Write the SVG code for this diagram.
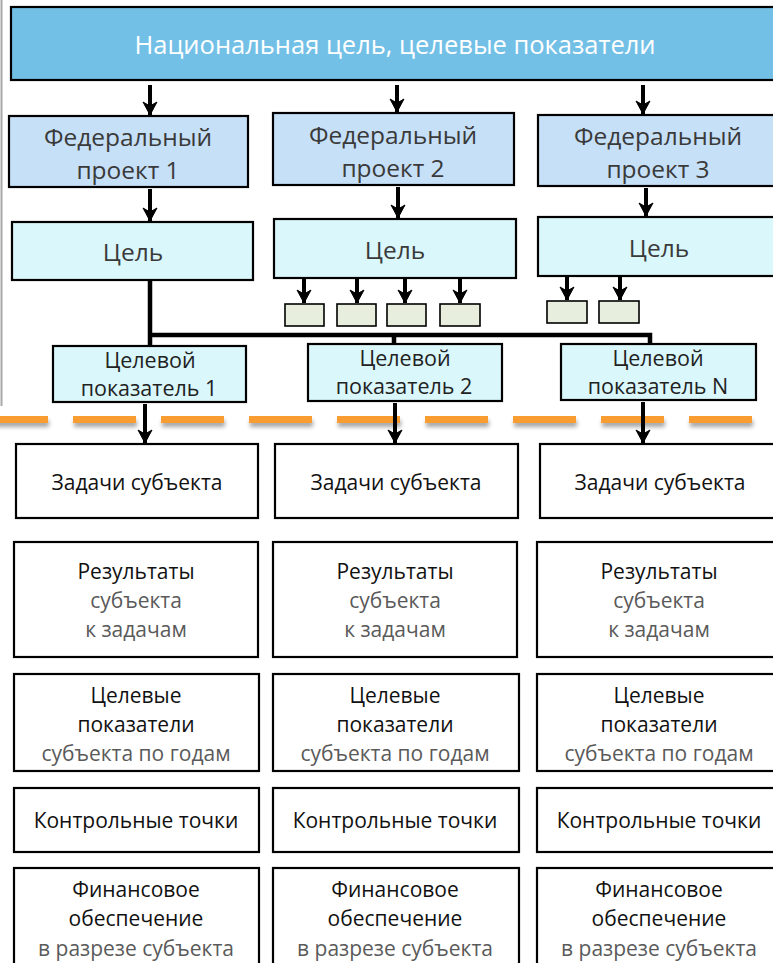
<svg xmlns="http://www.w3.org/2000/svg" width="773" height="963" viewBox="0 0 773 963">
<defs>
<style>
text{font-family:"Open Sans","Noto Sans","DejaVu Sans",sans-serif;text-anchor:middle}
.b{stroke:#000;stroke-width:2.2}
.nat{fill:#73C0E7}
.fed{fill:#C6E0F8}
.goal{fill:#DAF7FB}
.sm{fill:#E8EEDD;stroke:#000;stroke-width:1.6}
.w{fill:#fff}
.tw{fill:#fff;font-size:25.5px}
.t26{fill:#3a3a3a;font-size:24.5px}
.t22{fill:#222;font-size:21.5px}
.tk{fill:#111;font-size:21px}
.tg{fill:#5a5a5a;font-size:21px}
.ln{stroke:#000;stroke-width:4.5;fill:none}
.ar{stroke:#000;stroke-width:4;fill:none;marker-end:url(#ah)}
</style>
<marker id="ah" markerUnits="userSpaceOnUse" markerWidth="20" markerHeight="20" refX="0" refY="0" orient="auto" overflow="visible">
<path d="M-13,-7 L0,0 L-13,7 L-9,0 Z" fill="#000" stroke="#000" stroke-width="1" stroke-linejoin="miter"/>
</marker>
<filter id="sh" filterUnits="userSpaceOnUse" x="-20" y="400" width="820" height="40">
<feGaussianBlur in="SourceAlpha" stdDeviation="2"/>
<feOffset dx="1" dy="4" result="o"/>
<feComponentTransfer><feFuncA type="linear" slope="0.35"/></feComponentTransfer>
<feMerge><feMergeNode/><feMergeNode in="SourceGraphic"/></feMerge>
</filter>
</defs>
<rect width="773" height="963" fill="#fff"/>
<line x1="1.5" y1="0" x2="1.5" y2="406" stroke="#a8a8a8" stroke-width="2"/>

<g id="national-goal">
<rect class="nat b" x="11" y="7" width="775" height="73"/>
<text class="tw" x="395" y="54">Национальная цель, целевые показатели</text>
</g>

<g id="fed1"><rect class="fed b" x="9" y="116" width="239" height="71"/>
<text class="t26" x="128" y="146">Федеральный</text><text class="t26" x="128" y="179">проект 1</text></g>
<g id="fed2"><rect class="fed b" x="273" y="113" width="241" height="72"/>
<text class="t26" x="393" y="144">Федеральный</text><text class="t26" x="393" y="177">проект 2</text></g>
<g id="fed3"><rect class="fed b" x="538" y="115" width="250" height="71"/>
<text class="t26" x="658" y="145">Федеральный</text><text class="t26" x="658" y="178">проект 3</text></g>

<g id="goal1"><rect class="goal b" x="12" y="222" width="241" height="58"/><text class="t26" x="133" y="261">Цель</text></g>
<g id="goal2"><rect class="goal b" x="274" y="219" width="242" height="59"/><text class="t26" x="395" y="259">Цель</text></g>
<g id="goal3"><rect class="goal b" x="538" y="217" width="250" height="59"/><text class="t26" x="659" y="257">Цель</text></g>

<g id="sub2-1"><rect class="sm" x="285" y="304" width="39" height="22"/></g>
<g id="sub2-2"><rect class="sm" x="337" y="304" width="39" height="22"/></g>
<g id="sub2-3"><rect class="sm" x="387" y="304" width="39" height="22"/></g>
<g id="sub2-4"><rect class="sm" x="440" y="304" width="40" height="22"/></g>
<g id="sub3-1"><rect class="sm" x="547" y="301" width="40" height="22"/></g>
<g id="sub3-2"><rect class="sm" x="599" y="301" width="40" height="22"/></g>

<g id="ind1"><rect class="goal b" x="53" y="346" width="193" height="56"/>
<text class="t22" x="150" y="368">Целевой</text><text class="t22" x="149" y="396">показатель 1</text></g>
<g id="ind2"><rect class="goal b" x="308" y="344" width="194" height="57"/>
<text class="t22" x="405" y="366">Целевой</text><text class="t22" x="404" y="394">показатель 2</text></g>
<g id="indN"><rect class="goal b" x="561" y="344" width="195" height="56"/>
<text class="t22" x="658" y="366">Целевой</text><text class="t22" x="658" y="394">показатель N</text></g>

<g id="divider" filter="url(#sh)">
<line x1="-15" y1="419.5" x2="773" y2="419.5" stroke="#F99C33" stroke-width="7" stroke-dasharray="63 25"/>
</g>

<g id="tasks1"><rect class="w b" x="16" y="444" width="242" height="74"/><text class="tk" x="137" y="490">Задачи субъекта</text></g>
<g id="tasks2"><rect class="w b" x="275" y="444" width="243" height="74"/><text class="tk" x="396" y="490">Задачи субъекта</text></g>
<g id="tasks3"><rect class="w b" x="540" y="444" width="250" height="74"/><text class="tk" x="660" y="490">Задачи субъекта</text></g>

<g id="res1"><rect class="w b" x="14" y="542" width="244" height="115"/>
<text class="tk" x="136" y="579">Результаты</text><text class="tg" x="136" y="608">субъекта</text><text class="tg" x="136" y="637">к задачам</text></g>
<g id="res2"><rect class="w b" x="273" y="542" width="244" height="115"/>
<text class="tk" x="395" y="579">Результаты</text><text class="tg" x="395" y="608">субъекта</text><text class="tg" x="395" y="637">к задачам</text></g>
<g id="res3"><rect class="w b" x="537" y="542" width="250" height="115"/>
<text class="tk" x="659" y="579">Результаты</text><text class="tg" x="659" y="608">субъекта</text><text class="tg" x="659" y="637">к задачам</text></g>

<g id="kpi1"><rect class="w b" x="14" y="674" width="245" height="97"/>
<text class="tk" x="136" y="703">Целевые</text><text class="tk" x="136" y="732">показатели</text><text class="tg" x="136" y="761">субъекта по годам</text></g>
<g id="kpi2"><rect class="w b" x="273" y="674" width="246" height="97"/>
<text class="tk" x="395" y="703">Целевые</text><text class="tk" x="395" y="732">показатели</text><text class="tg" x="395" y="761">субъекта по годам</text></g>
<g id="kpi3"><rect class="w b" x="537" y="674" width="250" height="97"/>
<text class="tk" x="659" y="703">Целевые</text><text class="tk" x="659" y="732">показатели</text><text class="tg" x="659" y="761">субъекта по годам</text></g>

<g id="cp1"><rect class="w b" x="14" y="788" width="245" height="64"/><text class="tk" x="136" y="828">Контрольные точки</text></g>
<g id="cp2"><rect class="w b" x="273" y="788" width="246" height="64"/><text class="tk" x="395" y="828">Контрольные точки</text></g>
<g id="cp3"><rect class="w b" x="537" y="788" width="250" height="64"/><text class="tk" x="659" y="828">Контрольные точки</text></g>

<g id="fin1"><rect class="w b" x="14" y="868" width="245" height="110"/>
<text class="tk" x="136" y="897">Финансовое</text><text class="tk" x="136" y="926">обеспечение</text><text class="tg" x="136" y="956">в разрезе субъекта</text></g>
<g id="fin2"><rect class="w b" x="273" y="868" width="246" height="110"/>
<text class="tk" x="395" y="897">Финансовое</text><text class="tk" x="395" y="926">обеспечение</text><text class="tg" x="395" y="956">в разрезе субъекта</text></g>
<g id="fin3"><rect class="w b" x="537" y="868" width="250" height="110"/>
<text class="tk" x="659" y="897">Финансовое</text><text class="tk" x="659" y="926">обеспечение</text><text class="tg" x="659" y="956">в разрезе субъекта</text></g>

<g id="connectors">
<line class="ar" x1="150" y1="85" x2="150" y2="115"/>
<line class="ar" x1="397" y1="85" x2="397" y2="112"/>
<line class="ar" x1="643" y1="85" x2="643" y2="114"/>
<line class="ar" x1="150" y1="189" x2="150" y2="221"/>
<line class="ar" x1="398" y1="187" x2="398" y2="218"/>
<line class="ar" x1="646" y1="188" x2="646" y2="216"/>
<line class="ar" x1="304" y1="279" x2="304" y2="303"/>
<line class="ar" x1="357" y1="279" x2="357" y2="303"/>
<line class="ar" x1="405" y1="279" x2="405" y2="303"/>
<line class="ar" x1="460" y1="279" x2="460" y2="303"/>
<line class="ar" x1="567" y1="277" x2="567" y2="300"/>
<line class="ar" x1="620" y1="277" x2="620" y2="300"/>
<path class="ln" d="M150,280 V346 M150,335 H650 V344 M394,335 V344"/>
<line class="ar" x1="145" y1="404" x2="145" y2="443"/>
<line class="ar" x1="395" y1="403" x2="395" y2="443"/>
<line class="ar" x1="643" y1="402" x2="643" y2="443"/>
</g>
</svg>
